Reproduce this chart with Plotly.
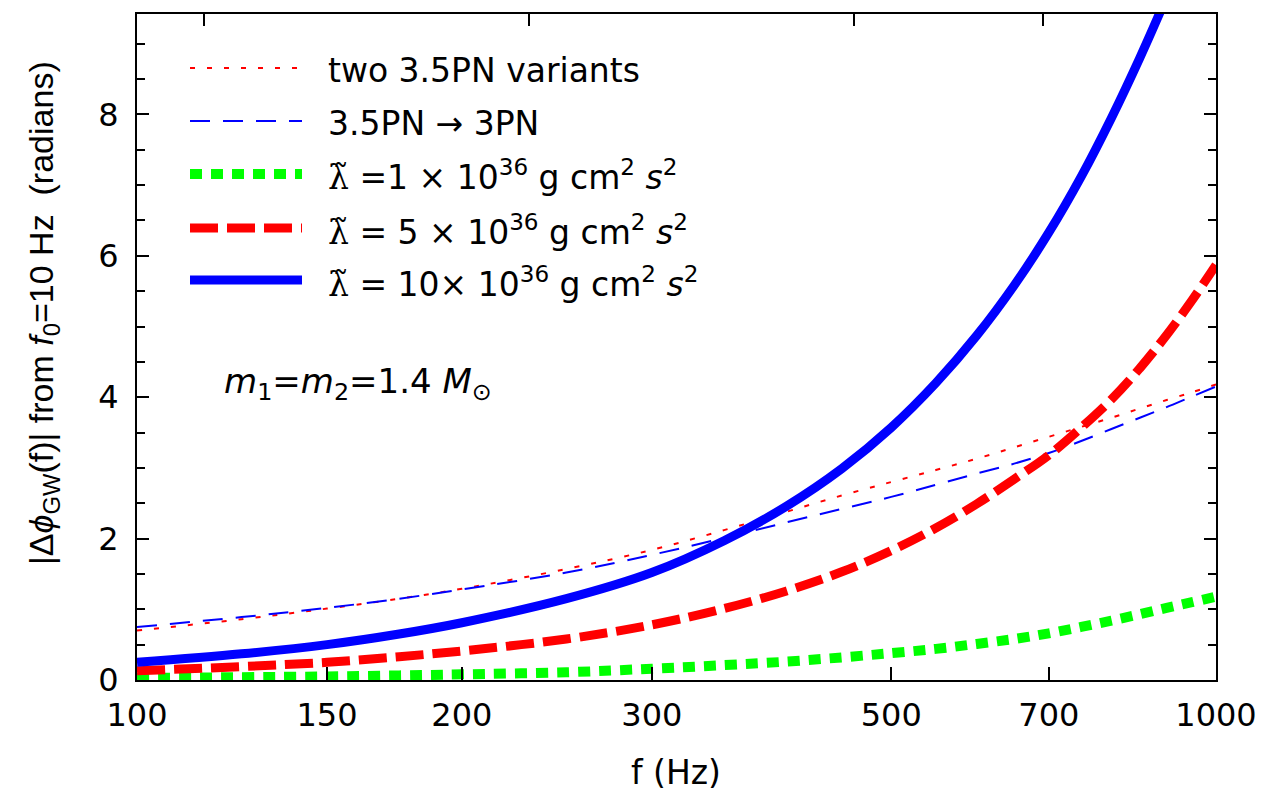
import plotly.graph_objects as go

# ---- data: accumulated GW phase difference vs frequency ----
FREQ_HZ = [100, 125, 150, 175, 200, 250, 300, 350, 400, 450, 500,
           550, 600, 650, 700, 750, 800, 850, 900, 950, 1000]

PHASE_TWO_VARIANTS = [0.70, 0.86, 1.01, 1.15, 1.29, 1.57, 1.84, 2.12, 2.38, 2.61, 2.80,
                      2.97, 3.13, 3.29, 3.44, 3.58, 3.71, 3.84, 3.96, 4.07, 4.18]
PHASE_35_TO_3PN = [0.75, 0.89, 1.02, 1.15, 1.28, 1.52, 1.77, 2.01, 2.23, 2.42, 2.59,
                   2.76, 2.92, 3.06, 3.21, 3.38, 3.55, 3.71, 3.86, 4.01, 4.15]
PHASE_LAMBDA_1 = [0.03, 0.04, 0.05, 0.065, 0.08, 0.11, 0.16, 0.21, 0.26, 0.32, 0.38,
                  0.44, 0.51, 0.58, 0.66, 0.75, 0.84, 0.93, 1.02, 1.10, 1.18]
PHASE_LAMBDA_5 = [0.13, 0.19, 0.25, 0.33, 0.41, 0.58, 0.78, 1.01, 1.26, 1.53, 1.83,
                  2.15, 2.49, 2.84, 3.18, 3.57, 3.97, 4.41, 4.88, 5.37, 5.87]
FREQ_LAMBDA_10 = [100, 125, 150, 175, 200, 250, 300, 350, 400, 450, 500,
                  550, 600, 650, 700, 750, 800, 850, 900]
PHASE_LAMBDA_10 = [0.25, 0.37, 0.50, 0.65, 0.81, 1.15, 1.52, 1.97, 2.46, 2.99, 3.57,
                   4.20, 4.87, 5.58, 6.33, 7.12, 7.95, 8.80, 9.66]

X_TICK_VALS = [100, 150, 200, 300, 500, 700, 1000]
X_TICK_TEXT = ["100", "150", "200", "300", "500", "700", "1000"]
X_TOP_TICK_VALS = [115.4, 230.8, 461.7, 691.0]
Y_TICK_VALS = [0, 2, 4, 6, 8]
Y_TICK_TEXT = ["0", "2", "4", "6", "8"]

LAM = '<span style="font-family:DejaVu Serif">λ̃</span>'
LEGEND_LABELS = [
    "two 3.5PN variants",
    "3.5PN → 3PN",
    LAM + " =1 × 10<sup>36</sup> g cm<sup>2</sup> <i>s</i><sup>2</sup>",
    LAM + " = 5 × 10<sup>36</sup> g cm<sup>2</sup> <i>s</i><sup>2</sup>",
    LAM + " = 10× 10<sup>36</sup> g cm<sup>2</sup> <i>s</i><sup>2</sup>",
]

# ---- figure geometry (pixels) ----
W, H = 1285, 792
L, R, T, B = 137, 69, 14, 112
PW, PH = W - L - R, H - T - B


def px_x(px):
    return (px - L) / PW


def px_y(py):
    return (H - B - py) / PH


STYLES = [
    dict(color="#ff0000", width=2, dash="5px,12px"),
    dict(color="#0000ff", width=2, dash="20px,13px"),
    dict(color="#00ff00", width=10, dash="12px,9px"),
    dict(color="#ff0000", width=9, dash="28px,9px"),
    dict(color="#0000ff", width=9, dash="solid"),
]

SERIES = [
    (FREQ_HZ, PHASE_TWO_VARIANTS),
    (FREQ_HZ, PHASE_35_TO_3PN),
    (FREQ_HZ, PHASE_LAMBDA_1),
    (FREQ_HZ, PHASE_LAMBDA_5),
    (FREQ_LAMBDA_10, PHASE_LAMBDA_10),
]

fig = go.Figure()
for (xs, ys), st, name in zip(SERIES, STYLES, LEGEND_LABELS):
    fig.add_trace(go.Scatter(
        x=xs, y=ys, mode="lines", name=name, showlegend=False,
        line=dict(color=st["color"], width=st["width"], dash=st["dash"], shape="spline", smoothing=1.0),
        hoverinfo="skip",
    ))

# helper trace so the top axis (with its own ticks) is drawn
fig.add_trace(go.Scatter(x=[FREQ_HZ[0], FREQ_HZ[-1]], y=[None, None], xaxis="x2",
                         mode="lines", showlegend=False, hoverinfo="skip"))

# ---- hand-drawn legend ----
legend_rows = [68, 121, 174, 228, 280]
shapes = []
annotations = []
for row_y, st, label in zip(legend_rows, STYLES, LEGEND_LABELS):
    shapes.append(dict(type="line", xref="paper", yref="paper",
                       x0=px_x(190), x1=px_x(302), y0=px_y(row_y), y1=px_y(row_y),
                       line=dict(color=st["color"], width=st["width"], dash=st["dash"])))
    annotations.append(dict(text=label, xref="paper", yref="paper",
                            x=px_x(326), y=px_y(row_y + 2), xanchor="left", yanchor="middle",
                            showarrow=False,
                            font=dict(family="DejaVu Sans", size=33, color="black")))

annotations.append(dict(
    text="<i>m</i><sub>1</sub>=<i>m</i><sub>2</sub>=1.4 <i>M</i><sub>⊙</sub>",
    xref="paper", yref="paper", x=px_x(222), y=px_y(383), xanchor="left", yanchor="middle",
    showarrow=False, font=dict(family="DejaVu Sans", size=34, color="black")))

annotations.append(dict(
    text="|Δ<i>ϕ</i><sub>GW</sub>(f)| from <i>f</i><sub>0</sub>=10 Hz\u00a0\u00a0(radians)",
    xref="paper", yref="paper", x=px_x(43), y=px_y(313), xanchor="center", yanchor="middle",
    textangle=-90, showarrow=False,
    font=dict(family="Liberation Sans", size=34, color="black")))

annotations.append(dict(
    text="f (Hz)", xref="paper", yref="paper", x=px_x(676), y=px_y(772),
    xanchor="center", yanchor="middle", showarrow=False,
    font=dict(family="DejaVu Sans", size=33, color="black")))

tick_font = dict(family="DejaVu Sans", size=32, color="black")

fig.update_layout(
    width=W, height=H,
    margin=dict(l=L, r=R, t=T, b=B, pad=0),
    paper_bgcolor="white", plot_bgcolor="white",
    showlegend=False,
    shapes=shapes,
    annotations=annotations,
    xaxis=dict(
        type="log", range=[2, 3], tickmode="array", tickvals=X_TICK_VALS, ticktext=X_TICK_TEXT,
        ticks="inside", ticklen=13, tickwidth=2, tickcolor="black",
        showline=True, linewidth=2, linecolor="black", mirror=True,
        showgrid=False, zeroline=False, tickfont=tick_font, ticklabelstandoff=6,
    ),
    xaxis2=dict(
        type="log", range=[2, 3], overlaying="x", side="top", anchor="y",
        tickmode="array", tickvals=X_TOP_TICK_VALS, showticklabels=False,
        ticks="inside", ticklen=12, tickwidth=2, tickcolor="black",
        showline=False, showgrid=False, zeroline=False,
    ),
    yaxis=dict(
        range=[0, 9.42], tickmode="array", tickvals=Y_TICK_VALS, ticktext=Y_TICK_TEXT,
        ticks="inside", ticklen=12, tickwidth=2, tickcolor="black",
        minor=dict(dtick=0.5, ticks="inside", ticklen=8, tickwidth=2, tickcolor="black", showgrid=False),
        showline=True, linewidth=2, linecolor="black", mirror="ticks",
        showgrid=False, zeroline=False, tickfont=tick_font, ticklabelstandoff=10,
    ),
)

fig.write_html("out.html")
